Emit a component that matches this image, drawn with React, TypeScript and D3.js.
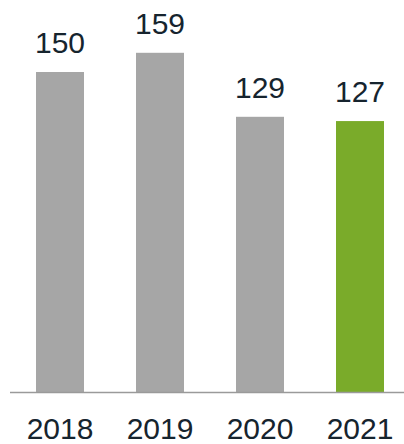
import React, {useRef, useEffect} from 'react';
import * as d3 from 'd3';

const years = ['2018', '2019', '2020', '2021'];
const values = [150, 159, 129, 127];
const highlightYear = '2021';

const W = 404;
const H = 444;

export default function App() {
    const ref = useRef<SVGSVGElement>(null);

    useEffect(() => {
        const svg = d3.select(ref.current);
        svg.selectAll('*').remove();

        const baseline = 392;
        const x = d3.scaleBand()
            .domain(years)
            .range([10, 410])
            .paddingInner(0.52)
            .paddingOuter(0.26);
        const y = d3.scaleLinear()
            .domain([0, 150])
            .range([baseline, baseline - 320]);

        const data = years.map((yr, i) => ({year: yr, value: values[i]}));

        svg.selectAll('rect.bar')
            .data(data)
            .enter()
            .append('rect')
            .attr('class', 'bar')
            .attr('x', d => x(d.year)!)
            .attr('y', d => y(d.value))
            .attr('width', x.bandwidth())
            .attr('height', d => baseline - y(d.value))
            .attr('fill', d => d.year === highlightYear ? '#7aab2a' : '#a6a6a6');

        // value labels
        svg.selectAll('text.val')
            .data(data)
            .enter()
            .append('text')
            .attr('class', 'val')
            .attr('x', d => x(d.year)! + x.bandwidth() / 2)
            .attr('y', d => y(d.value) - 19)
            .attr('text-anchor', 'middle')
            .attr('fill', '#16242e')
            .style('font-family', 'Liberation Sans, Arial, sans-serif')
            .style('font-size', '30px')
            .text(d => d.value);

        // baseline
        svg.append('line')
            .attr('x1', 10)
            .attr('x2', W)
            .attr('y1', baseline + 0.5)
            .attr('y2', baseline + 0.5)
            .attr('stroke', '#9a9a9a')
            .attr('stroke-width', 1.5);

        // year labels
        const xAxis = d3.axisBottom(x).tickSize(0).tickPadding(0);
        const g = svg.append('g')
            .attr('transform', `translate(0,${baseline})`)
            .call(xAxis);
        g.select('.domain').remove();
        g.selectAll('text')
            .attr('dy', 0)
            .attr('y', 47)
            .attr('fill', '#16242e')
            .style('font-family', 'Liberation Sans, Arial, sans-serif')
            .style('font-size', '30px');
    }, []);

    return (
        <svg ref={ref} width={W} height={H}
             style={{position: 'absolute', left: 0, top: 0, background: 'white'}}/>
    );
}
